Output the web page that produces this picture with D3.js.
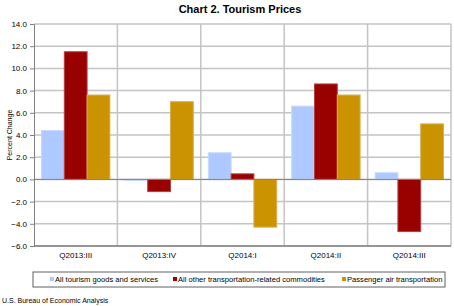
<!DOCTYPE html>
<html>
<head>
<meta charset="utf-8">
<script src="https://cdn.jsdelivr.net/npm/d3@7"></script>
<style>
  body { margin: 0; background: #fff; }
  text { font-family: "Liberation Sans", Arial, sans-serif; }
</style>
</head>
<body>
<div id="chart"></div>
<script>
// data
var quarters = ["Q2013:III", "Q2013:IV", "Q2014:I", "Q2014:II", "Q2014:III"];
var seriesNames = ["All tourism goods and services", "All other transportation-related commodities", "Passenger air transportation"];
var tourism = [4.4, -0.1, 2.4, 6.6, 0.6];
var otherTransport = [11.5, -1.1, 0.5, 8.6, -4.7];
var airTransport = [7.6, 7.0, -4.3, 7.6, 5.0];
var yTicks = [-6, -4, -2, 0, 2, 4, 6, 8, 10, 12, 14];
var colors = ["#aec9ff", "#990000", "#cc9300"];
var strokes = ["#c6d8ff", "#b54040", "#d9ad4d"];

var svgWidth = 454, svgHeight = 306;
var margin = { top: 24, right: 3, bottom: 60, left: 34 };
var width = svgWidth - margin.left - margin.right;
var height = svgHeight - margin.top - margin.bottom;

var svg = d3.select("#chart").append("svg")
  .attr("width", svgWidth)
  .attr("height", svgHeight);

svg.append("text")
  .attr("x", 240).attr("y", 13)
  .attr("text-anchor", "middle")
  .attr("font-size", 11).attr("font-weight", "bold")
  .text("Chart 2. Tourism Prices");

var chartGroup = svg.append("g")
  .attr("transform", `translate(${margin.left}, ${margin.top})`);

var x0 = d3.scaleBand().domain(quarters).range([0, width]);
var x1 = d3.scaleBand().domain([0, 1, 2])
  .range([0, x0.bandwidth()]).paddingOuter(0.33);
var y = d3.scaleLinear().domain([-6, 14]).range([height, 0]);

// horizontal gridlines
chartGroup.selectAll(".hgrid")
  .data(yTicks)
  .enter().append("line")
  .attr("x1", 0).attr("x2", width)
  .attr("y1", d => y(d)).attr("y2", d => y(d))
  .attr("stroke", "#c4c4c4").attr("stroke-width", 1.5);

// vertical dividers between quarters
chartGroup.selectAll(".vgrid")
  .data(quarters.slice(1).concat(["end"]))
  .enter().append("line")
  .attr("x1", (d, i) => (i + 1) * x0.bandwidth())
  .attr("x2", (d, i) => (i + 1) * x0.bandwidth())
  .attr("y1", 0).attr("y2", height)
  .attr("stroke", "#c4c4c4").attr("stroke-width", 1.5);

var rows = quarters.map((q, i) => ({
  q: q,
  vals: [tourism[i], otherTransport[i], airTransport[i]]
}));

var groups = chartGroup.selectAll(".grp")
  .data(rows)
  .enter().append("g")
  .attr("transform", d => `translate(${x0(d.q)},0)`);

groups.selectAll("rect")
  .data(d => d.vals.map((v, k) => ({ k: k, v: v })))
  .enter().append("rect")
  .attr("x", d => x1(d.k))
  .attr("width", x1.bandwidth())
  .attr("y", d => y(Math.max(0, d.v)))
  .attr("height", d => Math.abs(y(d.v) - y(0)))
  .attr("fill", d => colors[d.k])
  .attr("stroke", d => strokes[d.k])
  .attr("stroke-width", 1);

// zero line
chartGroup.append("line")
  .attr("x1", 0).attr("x2", width)
  .attr("y1", y(0)).attr("y2", y(0))
  .attr("stroke", "#808080").attr("stroke-width", 1);

// y axis
var leftAxis = d3.axisLeft(y).tickValues(yTicks)
  .tickFormat(d3.format(".1f")).tickSize(4).tickPadding(3);
var yAxis = chartGroup.append("g").call(leftAxis);
yAxis.select(".domain").attr("stroke", "#808080");
yAxis.selectAll(".tick line").attr("stroke", "#808080");
yAxis.selectAll("text")
  .attr("font-size", 8).attr("fill", "#000")
  .attr("font-family", "Liberation Sans, Arial, sans-serif");

// bottom border
chartGroup.append("line")
  .attr("x1", 0).attr("x2", width)
  .attr("y1", height).attr("y2", height)
  .attr("stroke", "#808080").attr("stroke-width", 1.5);

// quarter labels
chartGroup.selectAll(".qlabel")
  .data(quarters)
  .enter().append("text")
  .attr("x", d => x0(d) + x0.bandwidth() / 2)
  .attr("y", height + 12)
  .attr("text-anchor", "middle")
  .attr("font-size", 8)
  .text(d => d);

svg.append("text")
  .attr("transform", `translate(12, ${margin.top + height / 2}) rotate(-90)`)
  .attr("text-anchor", "middle")
  .attr("font-size", 7)
  .text("Percent Change");

// legend
var legend = svg.append("g").attr("transform", "translate(33, 272)");
legend.append("rect")
  .attr("width", 412).attr("height", 15)
  .attr("fill", "#fff").attr("stroke", "#606060");
var legendX = [17, 140, 309];
seriesNames.forEach(function(name, k) {
  legend.append("rect")
    .attr("x", legendX[k]).attr("y", 5)
    .attr("width", 4).attr("height", 4)
    .attr("fill", colors[k]);
  legend.append("text")
    .attr("x", legendX[k] + 5).attr("y", 10)
    .attr("font-size", 7.6)
    .text(name);
});

svg.append("text")
  .attr("x", 2).attr("y", 303)
  .attr("font-size", 7)
  .text("U.S. Bureau of Economic Analysis");
</script>
</body>
</html>
